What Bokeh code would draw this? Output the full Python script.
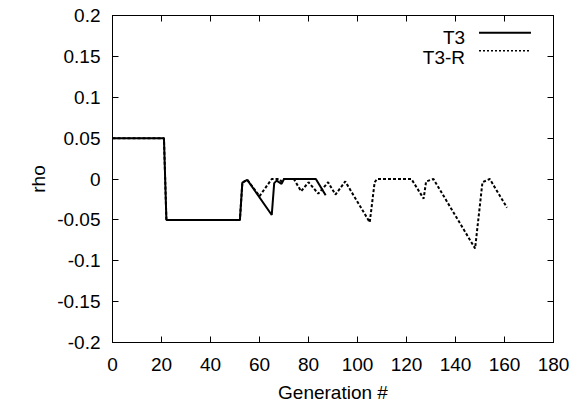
from bokeh.plotting import figure
from bokeh.models import LinearAxis, FixedTicker, Range1d, CustomJSTickFormatter, Label
from bokeh.embed import file_html
from bokeh.resources import INLINE

# ---- data ----
t3_gen = [0, 21, 22, 52, 53, 55, 65, 66, 67, 69, 70, 83, 87]
t3_rho = [0.05, 0.05, -0.05, -0.05, -0.0045, -0.001, -0.044, -0.005, -0.002, -0.006, 0.0, 0.0, -0.02]

t3r_gen = [0, 21, 22, 52, 53, 55, 60, 65, 68, 69, 70, 74, 77, 80, 84, 88, 91, 95,
           105, 107, 108, 122, 127, 128, 131, 148, 151, 154, 161]
t3r_rho = [0.05, 0.05, -0.05, -0.05, -0.0045, -0.001, -0.021, 0.0, 0.0, -0.003, 0.0, 0.0,
           -0.015, -0.004, -0.018, -0.004, -0.019, -0.003, -0.053, -0.004, 0.0, 0.0,
           -0.024, -0.003, 0.0, -0.085, -0.004, 0.0, -0.035]

series_names = ["T3", "T3-R"]

x_ticks = [0, 20, 40, 60, 80, 100, 120, 140, 160, 180]
x_tick_labels = ["0", "20", "40", "60", "80", "100", "120", "140", "160", "180"]
y_ticks = [-0.2, -0.15, -0.1, -0.05, 0.0, 0.05, 0.1, 0.15, 0.2]
y_tick_labels = ["-0.2", "-0.15", "-0.1", "-0.05", "0", "0.05", "0.1", "0.15", "0.2"]

FONT = "Liberation Sans"
FS = "19px"

p = figure(width=581, height=405, output_backend="svg", toolbar_location=None,
           x_range=Range1d(0, 180), y_range=Range1d(-0.2, 0.2),
           min_border_left=112, min_border_right=28, min_border_top=15, min_border_bottom=63)
p.grid.visible = False
p.outline_line_color = "black"
p.outline_line_width = 1
p.background_fill_color = "white"
p.border_fill_color = "white"

def style_axis(ax, ticks, labels, show_labels=True):
    ax.ticker = FixedTicker(ticks=ticks)
    ax.major_tick_in = 6
    ax.major_tick_out = 0
    ax.minor_tick_line_color = None
    ax.axis_line_color = "black"
    ax.major_tick_line_color = "black"
    ax.major_label_text_font = FONT
    ax.major_label_text_font_size = FS
    ax.major_label_text_color = "black"
    ax.axis_label_text_font = FONT
    ax.axis_label_text_font_size = FS
    ax.axis_label_text_font_style = "normal"
    ax.axis_label_text_color = "black"
    if show_labels:
        ax.major_label_overrides = dict(zip(ticks, labels))
    else:
        ax.formatter = CustomJSTickFormatter(code="return ''")
        ax.major_label_text_font_size = "1px"
        ax.major_label_standoff = 0

xa = p.xaxis[0]
ya = p.yaxis[0]
style_axis(xa, x_ticks, x_tick_labels)
style_axis(ya, y_ticks, y_tick_labels)
xa.axis_label = "Generation #"
ya.axis_label = "rho"
xa.major_label_standoff = 15
ya.major_label_standoff = 12
xa.axis_label_standoff = 8
ya.axis_label_standoff = 5

top = LinearAxis()
style_axis(top, x_ticks, x_tick_labels, show_labels=False)
p.add_layout(top, "above")
right = LinearAxis()
style_axis(right, y_ticks, y_tick_labels, show_labels=False)
p.add_layout(right, "right")

p.line(t3r_gen, t3r_rho, line_color="black", line_width=2, line_dash="3 2")
p.line(t3_gen, t3_rho, line_color="black", line_width=2)

# gnuplot-style key: text right-aligned, line sample to its right (layout positions)
key_text_x = 143.9
key_line_x = [149.6, 170.8]
key_rows = [(0.179, 0.173), (0.157, 0.1486)]
key_styles = [dict(line_width=2), dict(line_width=1.5, line_dash="2 2")]
for name, (ly, ty), st in zip(series_names, key_rows, key_styles):
    p.add_layout(Label(x=key_text_x, y=ty, text=name, text_align="right",
                       text_baseline="alphabetic", text_font=FONT, text_font_size=FS,
                       text_color="black"))
    p.line(key_line_x, [ly, ly], line_color="black", **st)

open("out.html", "w").write(file_html(p, INLINE))
